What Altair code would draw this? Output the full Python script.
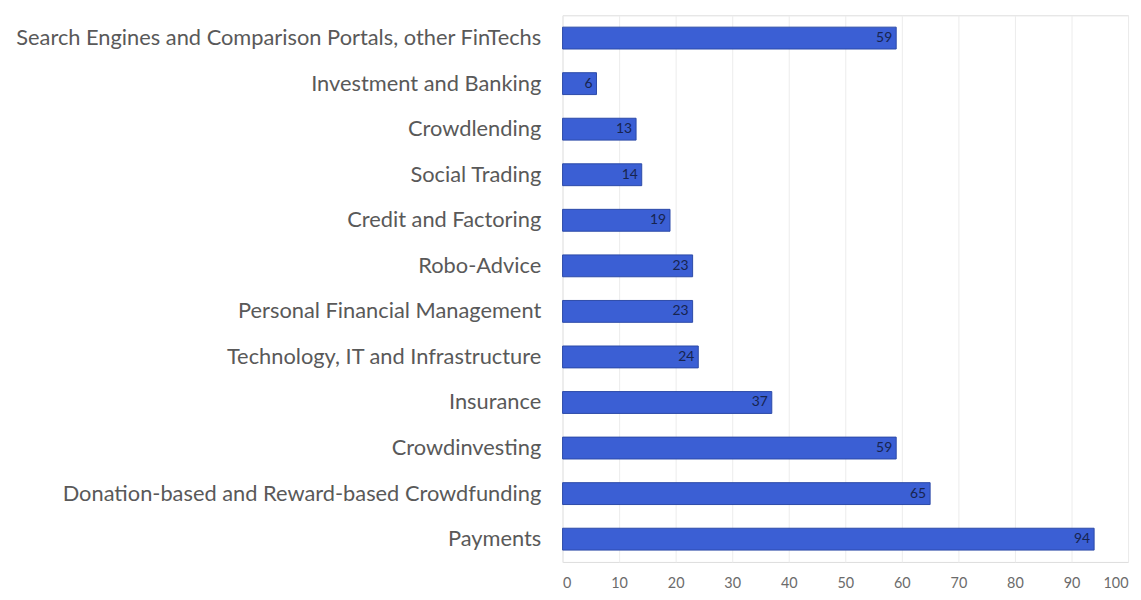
import altair as alt
import pandas as pd

categories = [
    "Search Engines and Comparison Portals, other FinTechs",
    "Investment and Banking",
    "Crowdlending",
    "Social Trading",
    "Credit and Factoring",
    "Robo-Advice",
    "Personal Financial Management",
    "Technology, IT and Infrastructure",
    "Insurance",
    "Crowdinvesting",
    "Donation-based and Reward-based Crowdfunding",
    "Payments",
]
values = [59, 6, 13, 14, 19, 23, 23, 24, 37, 59, 65, 94]
x_ticks = list(range(0, 101, 10))

df = pd.DataFrame({"category": categories, "value": values})

y_enc = alt.Y(
    "category:N",
    sort=categories,
    title=None,
    scale=alt.Scale(paddingInner=0.52, paddingOuter=0.26),
    axis=alt.Axis(
        labelFont="Lato",
        labelFontSize=22,
        labelColor="#595959",
        labelPadding=22,
        labelLimit=600,
        ticks=False,
        domain=False,
        grid=False,
        minExtent=554,
        maxExtent=554,
    ),
)
x_enc = alt.X(
    "value:Q",
    title=None,
    scale=alt.Scale(domain=[0, 100], nice=False),
    axis=alt.Axis(
        values=x_ticks,
        labelFont="Lato",
        labelFontSize=14.5,
        labelColor="#6b6b6b",
        labelPadding=15,
        ticks=False,
        domain=False,
        grid=True,
        gridColor="#ececec",
        gridWidth=1,
    ),
)

bars = alt.Chart(df).mark_bar(
    color="#3b5fd4", stroke="#2c4aa8", strokeWidth=1
).encode(x=x_enc, y=y_enc)

labels = alt.Chart(df).mark_text(
    align="right", dx=-4, font="Lato", fontSize=14, color="#17244f"
).encode(x="value:Q", y=alt.Y("category:N", sort=categories), text="value:Q")

chart = (bars + labels).properties(width=570, height=551).configure_view(
    stroke=None, strokeWidth=0
).configure(background="white")

chart.save("out.html", embed_options={"renderer": "svg", "actions": False})
